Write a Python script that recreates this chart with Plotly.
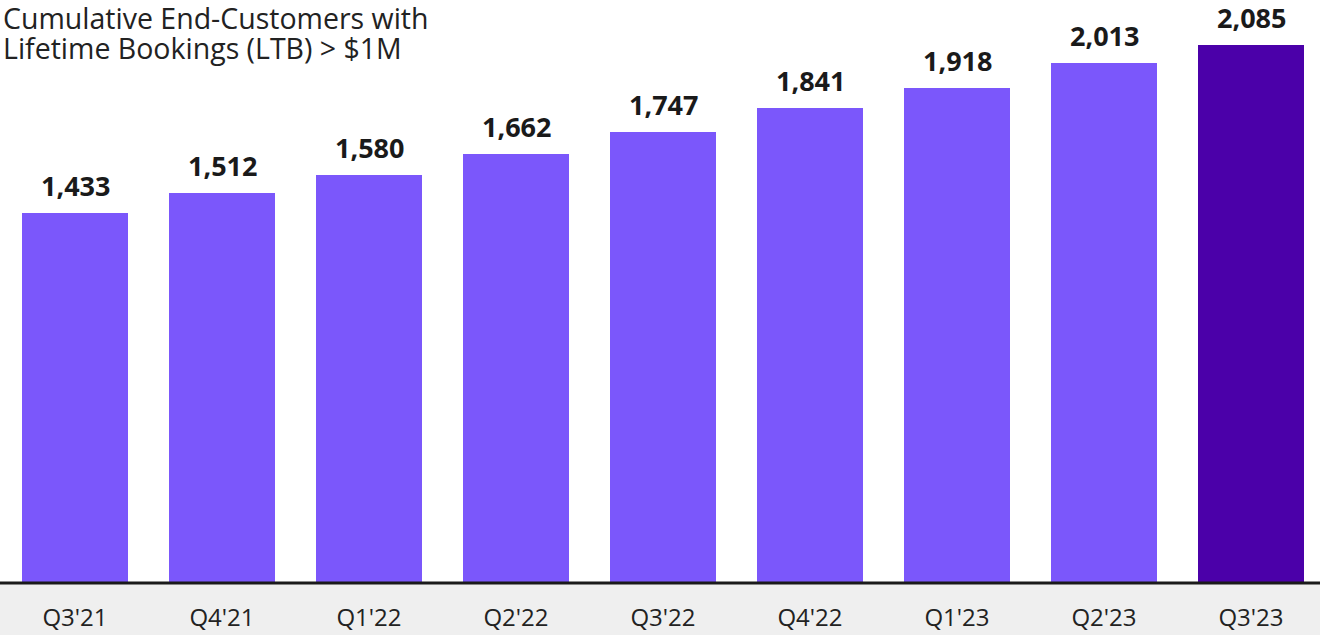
import plotly.graph_objects as go

quarters = ["Q3'21", "Q4'21", "Q1'22", "Q2'22", "Q3'22", "Q4'22", "Q1'23", "Q2'23", "Q3'23"]
customers = [1433, 1512, 1580, 1662, 1747, 1841, 1918, 2013, 2085]
bar_colors = ["#7B57FB"] * 8 + ["#4B00A9"]
title_lines = ["Cumulative End-Customers with", "Lifetime Bookings (LTB) > $1M"]

FONT = "Open Sans, sans-serif"

fig = go.Figure()
fig.add_trace(go.Bar(
    x=list(range(len(quarters))),
    y=customers,
    marker=dict(color=bar_colors, line=dict(width=0)),
    width=0.72,
    hoverinfo="skip",
))

for i, v in enumerate(customers):
    fig.add_annotation(x=i, y=v, text=f"<b>{v:,}</b>", showarrow=False,
                       yanchor="bottom", yshift=7,
                       font=dict(family=FONT, size=27, color="#1a1a1a"))

for k, line in enumerate(title_lines):
    fig.add_annotation(x=0, y=1.0, xref="paper", yref="paper", xanchor="left", yanchor="middle",
                       xshift=1, yshift=-18 - 30 * k,
                       text=line, showarrow=False, align="left",
                       font=dict(family=FONT, size=28.5, color="#222222"))

# grey band below axis
fig.add_shape(type="rect", xref="paper", yref="paper", x0=0, x1=1, y0=-52/583, y1=0,
              fillcolor="#EFEFEF", line=dict(width=0), layer="below")
fig.add_shape(type="line", xref="paper", yref="paper", x0=0, x1=1, y0=0, y1=0,
              line=dict(color="#1a1a1a", width=3))

fig.update_layout(
    width=1320, height=635,
    margin=dict(l=0, r=0, t=0, b=52),
    paper_bgcolor="white", plot_bgcolor="white",
    showlegend=False,
    bargap=0,
    xaxis=dict(range=[-75/147, (1320-75)/147], tickmode="array",
               tickvals=list(range(len(quarters))), ticktext=quarters,
               showgrid=False, zeroline=False, showline=False,
               ticks="outside", ticklen=13, tickcolor="rgba(0,0,0,0)",
               tickfont=dict(family=FONT, size=24, color="#222222")),
    yaxis=dict(range=[0, 2258], visible=False, showgrid=False, zeroline=False),
)

fig.write_html("out.html")
